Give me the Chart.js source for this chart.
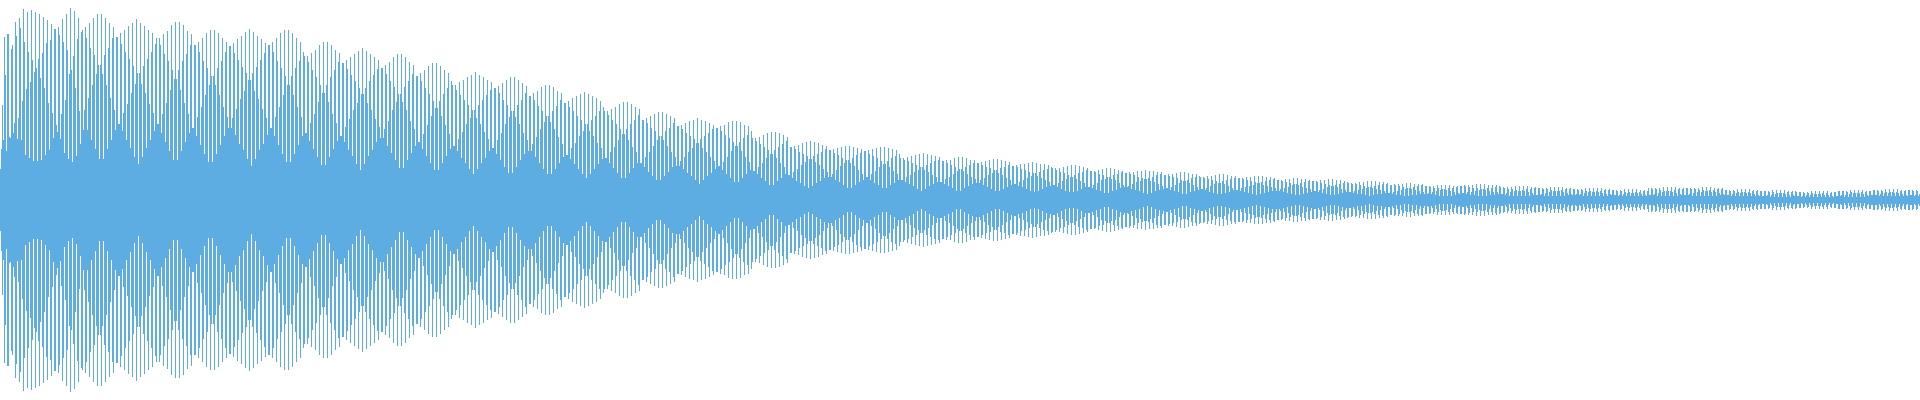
<!DOCTYPE html>
<html lang="en">

<head>
    <meta charset="utf-8">
    <title>Waveform</title>
    <script src="https://cdn.jsdelivr.net/npm/chart.js"></script>
    <style>
        html, body { margin: 0; padding: 0; background: #ffffff; }
        .chart-container { position: relative; width: 1920px; height: 400px; }
    </style>
</head>

<body>

    <div class="chart-container">
        <canvas id="waveChart"></canvas>
    </div>

    <script>
        // peak amplitude of every pixel column (the wave is symmetric round 0)
        // x 0 - 479
        const ampPart1 = [
            31,51,95,60, 163,125,49,166, 166,63,62,151, 155,67,77,178, 164,61,82,182,
            172,60,99,191, 158,45,111,188, 148,42,118,190, 140,39,128,188, 132,39,141,186,
            122,40,147,183, 112,45,157,180, 97,50,160,176, 87,62,171,171, 75,68,173,165,
            61,86,181,158, 47,100,186,150, 41,126,192,130, 38,144,189,112, 44,161,182,89,
            56,168,170,70, 90,173,162,70, 102,177,152,60, 115,182,145,51, 126,186,135,41,
            135,186,126,41, 145,182,115,51, 152,177,102,60, 162,173,90,70,
            163,163,76,76, 167,156,69,87, 170,148,60,96, 174,141,52,107, 177,134,43,116,
            181,127,36,127, 177,116,43,134, 174,107,52,141, 170,96,60,148, 167,87,69,156,
            162,76,76,162, 155,67,86,166, 146,58,97,169, 139,49,110,175, 130,40,121,178,
            121,40,130,178, 110,49,139,175, 97,58,146,169, 86,67,155,166,
            72,72,155,155, 64,83,158,148, 55,93,162,139, 46,105,167,132, 38,115,170,124,
            38,124,170,115, 46,132,167,105, 55,139,162,93, 64,148,158,83,
            72,154,154,72, 82,157,147,65, 91,161,140,56, 101,164,133,50, 109,168,127,41,
            120,171,120,34, 127,168,109,41, 133,164,101,50, 140,161,91,56, 147,157,82,65,
            155,155,72,72, 158,148,64,83, 162,139,55,93, 167,132,46,105, 170,124,38,115,
            170,115,38,124, 167,105,46,132, 162,93,55,139, 158,83,64,148,
            144,67,67,144, 138,59,77,147, 130,51,86,150, 123,43,98,155, 115,35,107,158,
            107,35,115,158, 98,43,123,155, 86,51,130,150, 77,59,138,147,
            64,64,137,137, 58,73,140,131, 50,81,143,125, 44,90,146,119, 36,97,149,112,
            30,106,152,106, 36,112,149,97, 44,119,146,90, 50,125,143,81, 58,131,140,73,
            62,132,132,62, 71,135,126,54, 79,138,119,47, 90,143,113,40, 98,146,106,32,
            106,146,98,32, 113,143,90,40, 119,138,79,47, 126,135,71,54,
            124,124,58,58, 127,119,51,66, 130,112,44,75, 134,106,37,84, 137,99,30,92,
            137,92,30,99, 134,84,37,106, 130,75,44,112, 127,66,51,119,
            115,54,54,115, 110,49,61,118, 105,42,68,120, 100,37,76,123, 95,31,82,125,
            90,26,90,128, 82,31,95,125
        ];
        // x 480 - 959
        const ampPart2 = [
            76,37,100,123, 68,42,105,120, 61,49,110,118,
            52,52,112,112, 46,60,114,107, 40,67,117,100, 33,76,120,95, 27,83,123,89,
            27,89,123,83, 33,95,120,76, 40,100,117,67, 46,107,114,60,
            49,104,104,49, 56,107,100,43, 63,109,94,37, 71,113,89,31, 78,115,84,26,
            84,115,78,26, 89,113,71,31, 94,109,63,37, 100,107,56,43,
            97,97,45,45, 99,93,41,52, 102,89,36,57, 104,84,31,64, 106,80,26,69,
            108,76,22,76, 106,69,26,80, 104,64,31,84, 102,57,36,89, 99,52,41,93,
            89,42,42,89, 85,37,48,91, 80,32,53,93, 76,27,60,96, 71,22,66,98,
            66,22,71,98, 60,27,76,96, 53,32,80,93, 48,37,85,91,
            37,37,80,80, 33,43,82,77, 28,48,84,72, 24,54,86,69, 20,60,88,64,
            20,64,88,60, 24,69,86,54, 28,72,84,48, 33,77,82,43,
            34,74,74,34, 39,75,71,31, 43,77,67,27, 48,79,64,24, 52,80,61,20,
            57,82,57,16, 61,80,52,20, 64,79,48,24, 67,77,43,27, 71,75,39,31,
            72,72,34,34, 74,69,30,38, 75,65,26,43, 78,62,22,49, 79,58,18,54,
            79,54,18,58, 78,49,22,62, 75,43,26,65, 74,38,30,69,
            62,29,29,62, 59,26,33,63, 56,22,37,65, 53,19,42,67, 50,15,46,68,
            46,15,50,68, 42,19,53,67, 37,22,56,65, 33,26,59,63,
            25,25,53,53, 22,28,54,51, 19,31,55,48, 17,35,57,46, 14,38,58,44,
            12,41,59,41, 14,44,58,38, 17,46,57,35, 19,48,55,31, 22,51,54,28,
            23,50,50,23, 26,51,47,20, 30,52,45,18, 34,53,42,15, 37,54,40,12,
            40,54,37,12, 42,53,34,15, 45,52,30,18, 47,51,26,20,
            49,49,23,23, 50,46,20,26, 51,44,17,29, 52,42,15,33, 53,39,12,36,
            53,36,12,39, 52,33,15,42, 51,29,17,44, 50,26,20,46,
            42,20,20,42, 40,18,23,43, 39,16,25,44, 37,14,28,45, 35,11,30,46,
            33,9,33,47, 30,11,35,46, 28,14,37,45, 25,16,39,44, 23,18,40,43,
            18,18,39,39, 16,21,40,37, 14,23,40,35, 12,26,42,33, 9,29,43,31
        ];
        // x 960 - 1439
        const ampPart3 = [
            9,31,43,29, 12,33,42,26, 14,35,40,23, 16,37,40,21,
            17,37,37,17, 20,38,35,15, 22,39,33,13, 25,40,32,11, 27,41,30,9,
            30,41,27,9, 32,40,25,11, 33,39,22,13, 35,38,20,15,
            34,34,16,16, 35,33,14,18, 36,31,13,20, 36,30,11,22, 37,28,9,24,
            38,27,8,27, 37,24,9,28, 36,22,11,30, 36,20,13,31, 35,18,14,33,
            32,15,15,32, 30,13,17,32, 28,11,19,33, 27,9,21,34, 25,8,23,35,
            23,8,25,35, 21,9,27,34, 19,11,28,33, 17,13,30,32,
            13,13,29,29, 12,15,29,28, 10,17,30,26, 9,20,31,25, 7,21,32,23,
            7,23,32,21, 9,25,31,20, 10,26,30,17, 12,28,29,15,
            13,27,27,13, 14,28,26,11, 16,28,25,10, 18,29,23,9, 19,29,22,7,
            21,30,21,6, 22,29,19,7, 23,29,18,9, 25,28,16,10, 26,28,14,11,
            25,25,12,12, 26,24,10,13, 26,23,9,15, 27,22,8,17, 28,20,6,19,
            28,19,6,20, 27,17,8,22, 26,15,9,23, 26,13,10,24,
            23,11,11,23, 22,10,12,24, 21,8,14,24, 20,7,16,25, 19,6,17,26,
            17,6,19,26, 16,7,20,25, 14,8,21,24, 12,10,22,24,
            10,10,22,22, 9,12,22,21, 8,13,23,20, 7,14,23,19, 6,15,24,18,
            5,17,24,17, 6,18,24,15, 7,19,23,14, 8,20,23,13, 9,21,22,12,
            9,20,20,9, 11,20,19,8, 12,21,18,7, 13,21,17,6, 15,22,16,5,
            16,22,15,5, 17,21,13,6, 18,21,12,7, 19,20,11,8,
            19,19,9,9, 19,18,8,10, 20,17,7,11, 20,16,6,13, 21,15,5,14,
            21,14,5,15, 20,13,6,16, 20,11,7,17, 19,10,8,18,
            17,8,8,17, 16,7,9,17, 16,6,10,18, 15,6,11,18, 14,5,12,19,
            13,4,13,19, 12,5,14,19, 11,6,15,18, 10,6,16,18, 9,7,16,17,
            7,7,15,15, 6,8,16,15, 5,9,16,14, 5,10,16,13, 4,11,17,12,
            4,12,17,11, 5,13,16,10, 5,14,16,9, 6,15,16,8,
            6,14,14,6, 7,14,13,6, 8,14,12,5, 9,15,12,4
        ];
        // x 1440 - 1919
        const ampPart4 = [
            10,15,11,4, 11,15,10,4, 12,15,9,4, 12,14,8,5, 13,14,7,6,
            14,14,7,7, 15,14,6,8, 15,13,5,8, 15,12,5,9, 16,12,4,10,
            16,11,4,11, 16,10,4,12, 15,9,5,12, 15,8,5,13, 15,8,6,14,
            13,6,6,13, 12,5,7,13, 11,4,8,13, 11,4,9,14, 10,4,9,14,
            9,4,10,14, 9,4,11,14, 8,4,11,13, 7,5,12,13,
            5,5,12,12, 5,6,12,11, 4,7,12,11, 4,8,13,10, 4,9,13,9,
            4,9,13,9, 4,10,13,8, 4,11,12,7, 5,11,12,6,
            5,11,11,5, 6,11,10,5, 6,11,10,4, 7,12,9,4, 8,12,9,4,
            8,12,8,4, 9,12,8,4, 9,12,7,4, 10,11,6,4, 10,11,6,5,
            10,10,5,5, 10,9,4,5, 10,9,4,6, 11,8,4,7, 11,8,4,7,
            11,7,4,8, 11,7,4,8, 10,6,4,9, 10,5,4,9,
            12,5,5,12, 11,5,6,12, 11,4,7,12, 10,4,8,13, 9,4,9,13,
            9,4,9,13, 8,4,10,13, 7,4,11,12, 6,5,11,12,
            5,5,12,12, 5,6,12,11, 4,7,12,11, 4,8,12,10, 4,8,13,10,
            4,9,13,9, 4,10,13,8, 4,10,12,8, 4,11,12,7, 5,11,12,6,
            5,10,10,5, 5,10,9,4, 6,10,9,4, 7,11,8,4, 7,11,8,4,
            8,11,7,4, 8,11,7,4, 9,10,6,4, 9,10,5,4,
            9,9,4,4, 9,9,4,5, 9,8,3,5, 10,8,3,6, 10,7,3,7,
            10,7,3,7, 10,6,3,8, 9,5,3,8, 9,5,4,9,
            8,4,4,8, 8,3,4,8, 7,3,5,8, 7,3,5,9, 7,3,6,9,
            6,3,6,9, 6,3,7,9, 5,3,7,9, 5,3,7,8, 4,3,8,8,
            4,4,9,9, 4,5,9,9, 3,5,9,8, 3,6,10,8, 3,7,10,7,
            3,7,10,7, 3,8,10,6, 3,8,9,5, 4,9,9,5,
            5,10,10,5, 5,10,9,4, 6,10,9,4, 7,11,8,4, 7,11,8,4,
            8,11,7,4, 8,11,7,4, 9,10,6,4, 9,10,5,4,
            10,10,5,5, 10,9,4,5, 10,9,4,6
        ];

        const yMin = -200;
        const yMax = 200;
        const waveColor = '#5dade2';

        const amps = ampPart1.concat(ampPart2, ampPart3, ampPart4);
        const labels = amps.map((a, i) => i);

        const ctx = document.getElementById('waveChart').getContext('2d');
        new Chart(ctx, {
            type: 'bar',
            data: {
                labels: labels,
                datasets: [{
                    label: 'Signal',
                    data: amps.map(a => [-a, a]),
                    backgroundColor: waveColor,
                    borderWidth: 0,
                    inflateAmount: 0,
                    barPercentage: 1,
                    categoryPercentage: 1
                }]
            },
            options: {
                responsive: true,
                maintainAspectRatio: false,
                animation: false,
                layout: { padding: 0 },
                plugins: {
                    legend: { display: false },
                    tooltip: { enabled: false }
                },
                scales: {
                    x: { display: false },
                    y: { display: false, min: yMin, max: yMax }
                }
            }
        });
    </script>
</body>
</html>
